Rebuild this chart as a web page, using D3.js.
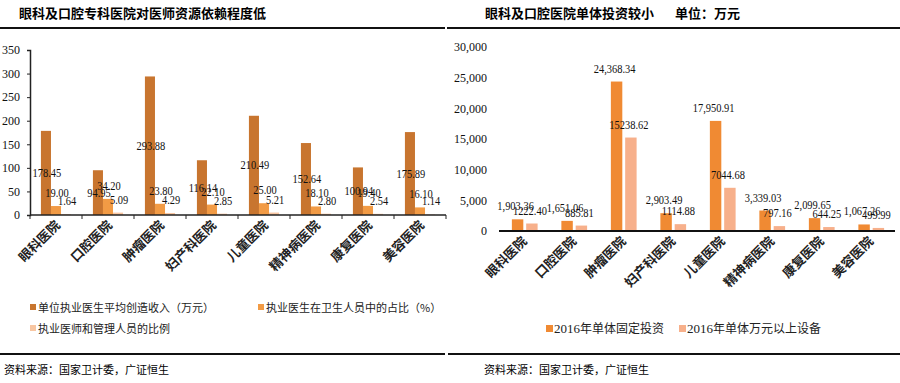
<!DOCTYPE html>
<html><head><meta charset="utf-8">
<script src="https://cdn.jsdelivr.net/npm/d3@7"></script>
<style>
body{margin:0;background:#fff;}
svg{display:block;}
.cjk{font-family:"Noto Sans CJK SC","Noto Sans",sans-serif;}
.num{font-family:"Liberation Serif","DejaVu Serif",serif;}
</style></head>
<body><svg id="c" width="900" height="383"></svg>
<script>
// ---- data ----
const categories = ["眼科医院","口腔医院","肿瘤医院","妇产科医院","儿童医院","精神病医院","康复医院","美容医院"];
const leftSeriesNames = ["单位执业医生平均创造收入（万元）","执业医生在卫生人员中的占比（%）","执业医师和管理人员的比例"];
const incomePerDoctor = [178.45,94.95,293.88,116.14,210.49,152.64,100.94,175.89];
const doctorShare = [19.00,34.20,23.80,22.10,25.00,18.10,19.40,16.10];
const doctorMgmtRatio = [1.64,5.09,4.29,2.85,5.21,2.80,2.54,1.14];
const leftTicks = [0,50,100,150,200,250,300,350];
const rightSeriesNames = ["2016年单体固定投资","2016年单体万元以上设备"];
const fixedInvestment = [1903.36,1651.06,24368.34,2903.49,17950.91,3339.03,2099.65,1067.26];
const equipment = [1222.40,885.81,15238.62,1114.88,7044.68,797.16,644.25,499.99];
const rightTicks = [0,5000,10000,15000,20000,25000,30000];
const leftTitle = "眼科及口腔专科医院对医师资源依赖程度低";
const rightTitle = ["眼科及口腔医院单体投资较小","单位：万元"];
const source = "资料来源：国家卫计委，广证恒生";

const svg = d3.select("#c");

function squeeze(sel, k){
  sel.each(function(){
    const w = this.getComputedTextLength();
    d3.select(this).attr("textLength", w*k).attr("lengthAdjust","spacingAndGlyphs");
  });
}

// ---- frame: titles, rules, sources ----
svg.append("text").attr("class","cjk").attr("x",19).attr("y",18).attr("font-size",13).attr("font-weight","bold").text(leftTitle);
svg.append("text").attr("class","cjk").attr("x",485).attr("y",18).attr("font-size",13).attr("font-weight","bold").text(rightTitle[0]);
svg.append("text").attr("class","cjk").attr("x",675).attr("y",18).attr("font-size",13).attr("font-weight","bold").text(rightTitle[1]);
[[0,445,28],[447,900,28],[0,445,354],[448,900,354]].forEach(([a,b,y])=>{
  svg.append("line").attr("x1",a).attr("x2",b).attr("y1",y).attr("y2",y).attr("stroke","#111").attr("stroke-width",2);
});
svg.append("text").attr("class","cjk").attr("x",4).attr("y",374).attr("font-size",11).text(source);
svg.append("text").attr("class","cjk").attr("x",484).attr("y",374).attr("font-size",11).text(source);

// ---- left chart ----
(function(){
  const series = [incomePerDoctor, doctorShare, doctorMgmtRatio];
  const colors = ["#C8752F","#F29B45","#F8C6A2"];
  const y = d3.scaleLinear().domain([0,350]).range([215,50]);
  const x = d3.scaleBand().domain(categories).range([30,446]);
  const bw = x.bandwidth();
  const x1 = d3.scaleBand().domain([0,1,2]).range([bw*0.21,bw*0.79]);
  const g = svg.append("g");
  const ya = g.append("g").attr("transform","translate(30,0)")
    .call(d3.axisLeft(y).tickValues(leftTicks).tickSize(3).tickPadding(7).tickFormat(d3.format("d")));
  ya.select(".domain").attr("stroke","#222").attr("stroke-width",1.5);
  ya.selectAll("line").attr("stroke","#222");
  ya.selectAll("text").attr("class","num").attr("font-size",12).attr("fill","#111");
  series.forEach((vals,si)=>{
    g.selectAll(null).data(vals).enter().append("rect")
      .attr("x",(d,i)=>x(categories[i])+x1(si)).attr("width",x1.bandwidth())
      .attr("y",d=>y(d)).attr("height",d=>y(0)-y(d)).attr("fill",colors[si]);
  });
  g.append("line").attr("x1",30).attr("x2",446).attr("y1",y(0)).attr("y2",y(0)).attr("stroke","#222").attr("stroke-width",1.5);
  g.selectAll(null).data(categories.concat(["end"])).enter().append("line")
    .attr("x1",(d,i)=>30+i*bw).attr("x2",(d,i)=>30+i*bw)
    .attr("y1",y(0)).attr("y2",y(0)+4).attr("stroke","#222");
  series.forEach((vals,si)=>{
    const t = g.selectAll(null).data(vals).enter().append("text").attr("class","num")
      .attr("font-size",12).attr("fill","#111").attr("text-anchor","middle")
      .attr("x",(d,i)=>x(categories[i])+x1(si)+x1.bandwidth()/2+1)
      .attr("y",d=> si===0 ? (y(d)+y(0))/2+4 : y(d)-9)
      .text(d=>d3.format(".2f")(d));
    squeeze(t,0.87);
  });
  g.selectAll(null).data(categories).enter().append("text").attr("class","cjk")
    .attr("font-size",13).attr("font-weight","bold").attr("text-anchor","end").attr("fill","#222")
    .attr("transform",d=>`translate(${x(d)+bw/2+5},${y(0)+11}) rotate(-45)`).text(d=>d);
  const leg = [[25,308],[253,308],[25,329]];
  leftSeriesNames.forEach((n,i)=>{
    g.append("rect").attr("x",leg[i][0]+5).attr("y",leg[i][1]-4).attr("width",6).attr("height",6).attr("fill",colors[i]);
    g.append("text").attr("class","cjk").attr("x",leg[i][0]+13).attr("y",leg[i][1]+4).attr("font-size",11).attr("fill","#222").text(n);
  });
})();

// ---- right chart ----
(function(){
  const series = [fixedInvestment, equipment];
  const colors = ["#F08A33","#F7B08B"];
  const fmts = [d3.format(",.2f"), d3.format(".2f")];
  const y = d3.scaleLinear().domain([0,30000]).range([231,47]);
  const x = d3.scaleBand().domain(categories).range([499,895]);
  const bw = x.bandwidth();
  const x1 = d3.scaleBand().domain([0,1]).range([bw*0.26,bw*0.78]).paddingInner(0.2);
  const g = svg.append("g");
  const ya = g.append("g").attr("transform","translate(489,0)")
    .call(d3.axisLeft(y).tickValues(rightTicks).tickSize(0).tickPadding(2).tickFormat(d3.format(",")));
  ya.select(".domain").remove();
  ya.selectAll("text").attr("class","num").attr("font-size",12).attr("fill","#111");
  series.forEach((vals,si)=>{
    g.selectAll(null).data(vals).enter().append("rect")
      .attr("x",(d,i)=>x(categories[i])+x1(si)).attr("width",x1.bandwidth())
      .attr("y",d=>y(d)).attr("height",d=>y(0)-y(d)).attr("fill",colors[si]);
  });
  g.append("line").attr("x1",499).attr("x2",895).attr("y1",y(0)).attr("y2",y(0)).attr("stroke","#111").attr("stroke-width",1.8);
  series.forEach((vals,si)=>{
    const t = g.selectAll(null).data(vals).enter().append("text").attr("class","num")
      .attr("font-size",12).attr("fill","#111").attr("text-anchor","middle")
      .attr("x",(d,i)=>x(categories[i])+x1(si)+x1.bandwidth()/2-2)
      .attr("y",d=>y(d)-9)
      .text(d=>fmts[si](d));
    squeeze(t,0.87);
  });
  g.selectAll(null).data(categories).enter().append("text").attr("class","cjk")
    .attr("font-size",13).attr("font-weight","bold").attr("text-anchor","end").attr("fill","#222")
    .attr("transform",d=>`translate(${x(d)+bw/2+4},${y(0)+11}) rotate(-45)`).text(d=>d);
  const leg = [[545,329],[678,329]];
  rightSeriesNames.forEach((n,i)=>{
    g.append("rect").attr("x",leg[i][0]+1).attr("y",leg[i][1]-4).attr("width",7).attr("height",7).attr("fill",colors[i]);
    const t = g.append("text").attr("class","cjk").attr("x",leg[i][0]+9).attr("y",leg[i][1]+4).attr("font-size",12).attr("fill","#222");
    t.append("tspan").attr("class","num").attr("font-size",13).text(n.slice(0,4));
    t.append("tspan").text(n.slice(4));
  });
})();
</script></body></html>
